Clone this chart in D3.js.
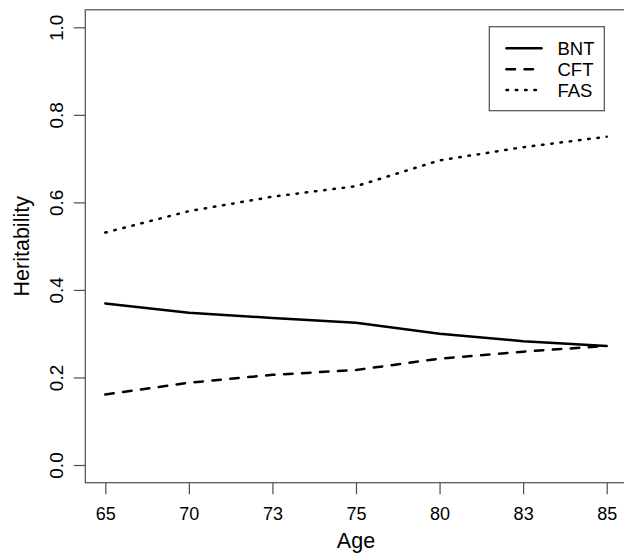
<!DOCTYPE html>
<html>
<head>
<meta charset="utf-8">
<script src="https://cdn.jsdelivr.net/npm/d3@7"></script>
<style>
  html, body { margin: 0; padding: 0; background: #fff; }
  svg { display: block; font-family: "Liberation Sans", Arial, Helvetica, sans-serif; }
</style>
</head>
<body>
<svg id="chart" width="624" height="555"></svg>
<script>
// ---- data ----
const ages = ["65", "70", "73", "75", "80", "83", "85"];
const bnt = [0.369, 0.348, 0.336, 0.325, 0.300, 0.283, 0.272];
const cft = [0.161, 0.188, 0.206, 0.217, 0.243, 0.259, 0.272];
const fas = [0.531, 0.580, 0.613, 0.637, 0.696, 0.726, 0.750];
const seriesNames = ["BNT", "CFT", "FAS"];
const yTicks = [0.0, 0.2, 0.4, 0.6, 0.8, 1.0];

const series = [
  { name: seriesNames[0], values: bnt, dash: null },
  { name: seriesNames[1], values: cft, dash: "8.5,9.5" },
  { name: seriesNames[2], values: fas, dash: "1.5,7.8" }
];

const svg = d3.select("#chart");
const box = { left: 85.3, right: 626.7, top: 9.8, bottom: 482.7 };

const x = d3.scalePoint().domain(ages).range([105.3, 606.7]);
const y = d3.scaleLinear().domain([0, 1]).range([465, 27.3]);

// box
svg.append("rect")
  .attr("x", box.left).attr("y", box.top)
  .attr("width", box.right - box.left).attr("height", box.bottom - box.top)
  .attr("fill", "none").attr("stroke", "#4d4d4d").attr("stroke-width", 1.2);

// x axis
const gx = svg.append("g").attr("transform", `translate(0,${box.bottom})`)
  .call(d3.axisBottom(x).tickSize(11.5).tickSizeOuter(0).tickPadding(13));
gx.select(".domain").remove();
gx.selectAll(".tick line").attr("stroke", "#4d4d4d").attr("stroke-width", 1.2);
gx.selectAll(".tick text").attr("font-size", 18).attr("fill", "#000")
  .attr("font-family", "Liberation Sans, Arial, sans-serif");

// y axis
const gy = svg.append("g").attr("transform", `translate(${box.left},0)`)
  .call(d3.axisLeft(y).tickValues(yTicks).tickFormat(d3.format(".1f")).tickSize(11.5).tickSizeOuter(0));
gy.select(".domain").remove();
gy.selectAll(".tick line").attr("stroke", "#4d4d4d").attr("stroke-width", 1.2);
gy.selectAll(".tick text")
  .attr("font-size", 19).attr("fill", "#000")
  .attr("font-family", "Liberation Sans, Arial, sans-serif")
  .attr("x", null).attr("dy", null)
  .attr("text-anchor", "middle")
  .attr("transform", "translate(-22.5,0) rotate(-90)");

// axis titles
svg.append("text").attr("x", (box.left + box.right) / 2).attr("y", 548)
  .attr("text-anchor", "middle").attr("font-size", 21.5).text("Age");
svg.append("text")
  .attr("transform", `translate(29,${(box.top + box.bottom) / 2}) rotate(-90)`)
  .attr("text-anchor", "middle").attr("font-size", 21.5).text("Heritability");

// lines
const line = d3.line()
  .x((d, i) => x(ages[i]))
  .y(d => y(d));

svg.append("g").selectAll("path").data(series).join("path")
  .attr("d", d => line(d.values))
  .attr("fill", "none").attr("stroke", "#000").attr("stroke-width", 2.5)
  .attr("stroke-linecap", "round").attr("stroke-linejoin", "round")
  .attr("stroke-dasharray", d => d.dash);

// legend
const lg = svg.append("g");
lg.append("rect").attr("x", 489.3).attr("y", 26.7).attr("width", 115).attr("height", 84)
  .attr("fill", "#fff").attr("stroke", "#4d4d4d").attr("stroke-width", 1.2);
const rows = lg.selectAll("g.row").data(series).join("g").attr("class", "row")
  .attr("transform", (d, i) => `translate(0,${48.3 + i * 20.9})`);
rows.append("line").attr("x1", 506.5).attr("x2", 541.5).attr("y1", 0).attr("y2", 0)
  .attr("stroke", "#000").attr("stroke-width", 2.5).attr("stroke-linecap", "round")
  .attr("stroke-dasharray", d => d.dash);
rows.append("text").attr("x", 557.5).attr("y", 6.6).attr("font-size", 18.5)
  .text(d => d.name);
</script>
</body>
</html>
